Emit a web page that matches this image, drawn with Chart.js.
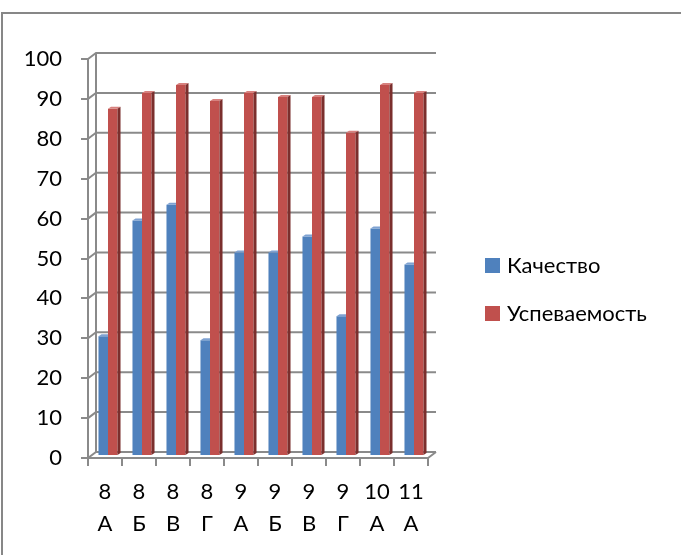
<!DOCTYPE html>
<html lang="ru">
<head>
    <meta charset="UTF-8">
    <title>Качество и успеваемость</title>
    <style>
        body { margin: 0; background: #ffffff; }
        #chartBox { width: 681px; height: 555px; }
    </style>
</head>
<body>
    <div id="chartBox">
        <canvas id="qualityChart" width="681" height="555"></canvas>
    </div>

    <script src="https://cdn.jsdelivr.net/npm/chart.js@4.4.3/dist/chart.umd.min.js"></script>
    <script>
        // данные по классам
        const classLabels = [['8', 'А'], ['8', 'Б'], ['8', 'В'], ['8', 'Г'], ['9', 'А'], ['9', 'Б'], ['9', 'В'], ['9', 'Г'], ['10', 'А'], ['11', 'А']];
        const quality = [30, 59, 63, 29, 51, 51, 55, 35, 57, 48];
        const progress = [87, 91, 93, 89, 91, 90, 90, 81, 93, 91];
        const yTicks = [0, 10, 20, 30, 40, 50, 60, 70, 80, 90, 100];

        const FONT = '"Lato", "Noto Sans", "Liberation Sans", sans-serif';
        const GRID = '#8a8a8a';
        const DEPTH_X = 8, DEPTH_Y = 6;   // смещение задней стенки
        const BAR_DX = 3, BAR_DY = 2;     // смещение столбиков

        const seriesColors = [
            { front: '#4f81bd', top: '#7fa2d2', side: '#2f5583' },
            { front: '#c0504d', top: '#d7817e', side: '#7b2f2d' }
        ];

        // псевдо-3D: задняя стенка, сетка, грани столбиков
        const fake3d = {
            id: 'fake3d',
            beforeDatasetsDraw(chart) {
                const { ctx, chartArea: a, scales: { y } } = chart;
                ctx.save();
                ctx.strokeStyle = GRID;
                ctx.lineWidth = 2;
                yTicks.forEach(v => {
                    const py = y.getPixelForValue(v);
                    ctx.beginPath();
                    ctx.moveTo(a.left, py);
                    ctx.lineTo(a.left + DEPTH_X, py - DEPTH_Y);
                    ctx.lineTo(a.right + DEPTH_X, py - DEPTH_Y);
                    ctx.stroke();
                });
                ctx.beginPath();
                ctx.moveTo(a.left + DEPTH_X, a.bottom - DEPTH_Y);
                ctx.lineTo(a.left + DEPTH_X, a.top - DEPTH_Y);
                ctx.moveTo(a.right, a.bottom);
                ctx.lineTo(a.right + DEPTH_X, a.bottom - DEPTH_Y);
                ctx.stroke();
                ctx.restore();

                ctx.save();
                ctx.translate(BAR_DX, -BAR_DY);
            },
            afterDatasetsDraw(chart) {
                const { ctx } = chart;
                chart.data.datasets.forEach((ds, i) => {
                    const c = seriesColors[i];
                    chart.getDatasetMeta(i).data.forEach(bar => {
                        const l = bar.x - bar.width / 2, r = bar.x + bar.width / 2;
                        const t = bar.y, b = bar.base;
                        ctx.fillStyle = c.top;
                        ctx.beginPath();
                        ctx.moveTo(l, t);
                        ctx.lineTo(l + 3, t - 2);
                        ctx.lineTo(i === 0 ? r : r + 3, t - 2);
                        ctx.lineTo(r, t);
                        ctx.closePath();
                        ctx.fill();
                        if (i === 1) {
                            ctx.fillStyle = c.side;
                            ctx.beginPath();
                            ctx.moveTo(r, t);
                            ctx.lineTo(r + 3, t - 2);
                            ctx.lineTo(r + 3, b - 2);
                            ctx.lineTo(r, b);
                            ctx.closePath();
                            ctx.fill();
                        }
                    });
                });
                ctx.restore();
            },
            afterDraw(chart) {
                const { ctx } = chart;
                ctx.save();
                // рамка
                ctx.strokeStyle = '#878787';
                ctx.lineWidth = 2;
                ctx.beginPath();
                ctx.moveTo(2, 555);
                ctx.lineTo(2, 13);
                ctx.lineTo(681, 13);
                ctx.stroke();
                // легенда
                ctx.font = '22px ' + FONT;
                ctx.textBaseline = 'middle';
                ctx.fillStyle = '#000';
                chart.data.datasets.forEach((ds, i) => {
                    const top = 258 + i * 48;
                    ctx.fillStyle = seriesColors[i].front;
                    ctx.fillRect(485, top, 15, 15);
                    ctx.fillStyle = '#000';
                    ctx.fillText(ds.label, 507, top + 8);
                });
                ctx.restore();
            }
        };

        const config = {
            type: 'bar',
            data: {
                labels: classLabels,
                datasets: [
                    { label: 'Качество', data: quality, backgroundColor: seriesColors[0].front },
                    { label: 'Успеваемость', data: progress, backgroundColor: seriesColors[1].front }
                ]
            },
            options: {
                responsive: false,
                animation: false,
                layout: { padding: { left: 0, top: 59, right: 253, bottom: 0 } },
                datasets: { bar: { categoryPercentage: 0.56, barPercentage: 1 } },
                scales: {
                    x: {
                        afterFit(scale) { scale.height = 97; },
                        grid: { drawOnChartArea: false, color: GRID, lineWidth: 2, tickLength: 8 },
                        border: { color: GRID, width: 2 },
                        ticks: { color: '#000', padding: 10, font: { family: FONT, size: 22, lineHeight: 1.45 } }
                    },
                    y: {
                        min: 0,
                        max: 100,
                        afterFit(scale) { scale.width = 88; },
                        grid: { drawOnChartArea: false, color: GRID, lineWidth: 2, tickLength: 7 },
                        border: { color: GRID, width: 2 },
                        ticks: { stepSize: 10, color: '#000', padding: 19, font: { family: FONT, size: 22 } }
                    }
                },
                plugins: {
                    legend: { display: false },
                    tooltip: { enabled: false }
                }
            },
            plugins: [fake3d]
        };

        const ctx = document.getElementById('qualityChart').getContext('2d');
        new Chart(ctx, config);
    </script>
</body>
</html>
